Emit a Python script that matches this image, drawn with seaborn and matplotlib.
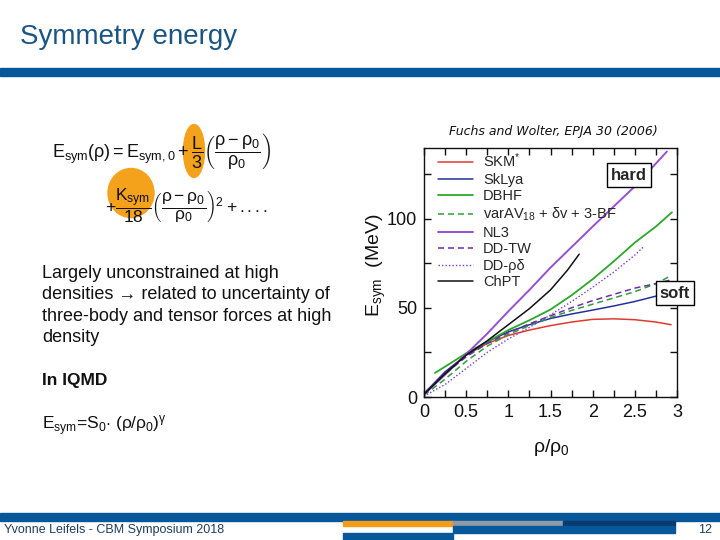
import matplotlib
matplotlib.use("Agg")
import matplotlib.pyplot as plt
from matplotlib.patches import Rectangle, Ellipse
import seaborn as sns

# === Curves: rho/rho0 vs E_sym (MeV) ===
skm_x = [0, 0.25, 0.5, 0.75, 1.0, 1.25, 1.5, 1.75, 2.0, 2.25, 2.5, 2.75, 2.93]
skm_y = [1.5, 14, 23.5, 30, 34.5, 37.5, 40, 42, 43.5, 43.8, 43.3, 42, 40.5]

sklya_x = [0, 0.25, 0.5, 0.75, 1.0, 1.25, 1.5, 1.75, 2.0, 2.25, 2.5, 2.75, 2.93]
sklya_y = [2, 14, 23.5, 31, 36.5, 40.5, 44, 46.5, 48.7, 51, 53.5, 56.5, 59]

dbhf_x = [0.13, 0.25, 0.5, 0.75, 1.0, 1.25, 1.5, 1.75, 2.0, 2.25, 2.5, 2.75, 2.94]
dbhf_y = [13.5, 17, 24.5, 31, 37.5, 43, 49, 57, 66, 76, 86.5, 95.5, 103.5]

varav_x = [0, 0.25, 0.5, 0.75, 1.0, 1.25, 1.5, 1.75, 2.0, 2.25, 2.5, 2.75, 2.93]
varav_y = [1, 10, 20, 28.5, 35, 40, 44.5, 48.5, 52, 55.5, 59, 63.5, 68]

nl3_x = [0, 0.25, 0.5, 0.75, 1.0, 1.25, 1.5, 2.0, 2.5, 2.88]
nl3_y = [1.5, 12.5, 24, 35.5, 48, 60, 72.5, 95.5, 118, 137.5]

ddtw_x = [0, 0.25, 0.5, 0.75, 1.0, 1.25, 1.5, 1.75, 2.0, 2.25, 2.5, 2.75, 2.92]
ddtw_y = [2, 13, 22.5, 30, 36, 41, 45.5, 50, 54, 57.5, 61, 63.5, 65.5]

ddrd_x = [0, 0.25, 0.5, 0.75, 1.0, 1.25, 1.5, 1.75, 2.0, 2.25, 2.5, 2.6]
ddrd_y = [0.5, 7, 16, 25, 32.5, 39, 46, 53.5, 61.5, 70, 79.5, 84]

chpt_x = [0, 0.25, 0.5, 0.75, 1.0, 1.25, 1.5, 1.7, 1.84]
chpt_y = [1.5, 13, 23.5, 31.5, 40.5, 49.5, 60, 71, 80]

labels = ["SKM$^{*}$", "SkLya", "DBHF", "varAV$_{18}$ + \u03b4v + 3-BF",
          "NL3", "DD-TW", "DD-\u03c1\u03b4", "ChPT"]

# === Styling ===
sns.set_style("ticks")
plt.rcParams["font.family"] = ["Liberation Sans", "DejaVu Sans"]
plt.rcParams["mathtext.fontset"] = "custom"
plt.rcParams["mathtext.rm"] = "Liberation Sans"
plt.rcParams["mathtext.it"] = "Liberation Sans"
plt.rcParams["mathtext.bf"] = "Liberation Sans:bold"

W, H = 720, 540
fig = plt.figure(figsize=(7.2, 5.4), dpi=100)


def fx(x):
    return x / W


def fy(y):
    return 1 - y / H


# background layer in pixel coordinates (y down)
bg = fig.add_axes([0, 0, 1, 1])
bg.set_xlim(0, W)
bg.set_ylim(H, 0)
bg.axis("off")

slide_blue = "#06589a"
bg.add_patch(Rectangle((0, 68), W, 8, color=slide_blue))
bg.add_patch(Rectangle((0, 513), W, 7.5, color=slide_blue))
bg.add_patch(Rectangle((343, 521), 110, 5, color="#f39c1a"))
bg.add_patch(Rectangle((453, 521), 110, 5, color="#8e9aa6"))
bg.add_patch(Rectangle((563, 521), 112, 5, color="#0b3a6e"))
bg.add_patch(Rectangle((453, 526), 222, 7, color=slide_blue))
bg.add_patch(Rectangle((343, 533), 110, 7, color=slide_blue))

bg.text(20, 37, "Symmetry energy", fontsize=20, color="#1b5584", va="center")
bg.text(4, 530, "Yvonne Leifels - CBM Symposium 2018", fontsize=9, color="#1e3d5c", va="center")
bg.text(705, 530, "12", fontsize=9, color="#1e3d5c", va="center", ha="center")

# highlighted terms of the expansion
bg.add_patch(Ellipse((194, 151), 21, 53, color="#f4a11c"))
bg.add_patch(Ellipse((131, 193), 46, 49, color="#f4a11c"))
bg.text(52, 151, r"$E_{sym}(\rho) = E_{sym,0} + \dfrac{L}{3}\left(\dfrac{\rho - \rho_0}{\rho_0}\right)$",
        fontsize=13, va="center", ha="left", color="#111111")
bg.text(105, 206, r"$+\dfrac{K_{sym}}{18}\left(\dfrac{\rho - \rho_0}{\rho_0}\right)^2 + ....$",
        fontsize=12.5, va="center", ha="left", color="#111111")

bg.text(42, 305.5, "Largely unconstrained at high\ndensities \u2192 related to uncertainty of\n"
        "three-body and tensor forces at high\ndensity",
        fontsize=13, va="center", ha="left", linespacing=1.34, color="#111111")
bg.text(42, 381, "In IQMD", fontsize=12.5, fontweight="bold", va="center", color="#111111")
bg.text(42, 426, r"E$_{sym}$=S$_0$$\cdot$ ($\rho$/$\rho_0$)$^{\gamma}$", fontsize=12.5,
        va="center", color="#111111")

# === Plot axes ===
ax = fig.add_axes([fx(424), fy(397), (677 - 424) / W, (397 - 148) / H])

series = [
    (skm_x, skm_y, "#e03a2e", "-", 1.1),
    (sklya_x, sklya_y, "#27309a", "-", 1.1),
    (dbhf_x, dbhf_y, "#2aa82a", "-", 1.3),
    (varav_x, varav_y, "#2e9e3a", (0, (4, 2.5)), 1.1),
    (nl3_x, nl3_y, "#9650d0", "-", 1.4),
    (ddtw_x, ddtw_y, "#6a2ea8", (0, (4, 2.5)), 1.1),
    (ddrd_x, ddrd_y, "#7a3ad0", (0, (1, 1.5)), 1.0),
    (chpt_x, chpt_y, "#111111", "-", 1.1),
]
for (xs, ys, col, ls, lw), lab in zip(series, labels):
    sns.lineplot(x=xs, y=ys, ax=ax, color=col, linestyle=ls, linewidth=lw,
                 label=lab, sort=False, estimator=None)

ax.set_xlim(0, 3)
ax.set_ylim(0, 139.5)
ax.set_xticks([0, 0.5, 1, 1.5, 2, 2.5, 3])
ax.set_xticklabels(["0", "0.5", "1", "1.5", "2", "2.5", "3"])
ax.set_xticks([0.25, 0.75, 1.25, 1.75, 2.25, 2.75], minor=True)
ax.set_yticks([0, 50, 100])
ax.set_yticks([25, 75, 125], minor=True)
ax.tick_params(which="both", direction="in", top=True, right=True, length=5,
               width=1, labelsize=13, pad=5, colors="#111111")
for s in ax.spines.values():
    s.set_linewidth(1)
    s.set_color("#111111")
ax.set_xlabel("")
ax.set_ylabel("")

ax.legend(loc="upper left", bbox_to_anchor=(0.055, 0.985), frameon=False,
          fontsize=10.5, handlelength=2.4, handletextpad=0.7, labelspacing=0.17,
          borderpad=0, borderaxespad=0)

fig.text(fx(376), fy(265), r"E$_{sym}$  (MeV)", fontsize=14, rotation=90,
         ha="center", va="center", color="#111111")
fig.text(fx(551), fy(447), r"$\rho$/$\rho_0$", fontsize=14, ha="center", va="center",
         color="#111111")
fig.text(fx(553), fy(131), "Fuchs and Wolter, EPJA 30 (2006)", fontsize=9,
         family="DejaVu Sans", style="italic", ha="center", va="center", color="#111111")

box = dict(boxstyle="square,pad=0.25", facecolor="white", edgecolor="black", linewidth=1)
fig.text(fx(629), fy(175), "hard", fontsize=12, fontweight="bold", ha="center",
         va="center", bbox=box)
fig.text(fx(675), fy(293), "soft", fontsize=12, fontweight="bold", ha="center",
         va="center", bbox=box)

fig.savefig("out.png", dpi=100)
